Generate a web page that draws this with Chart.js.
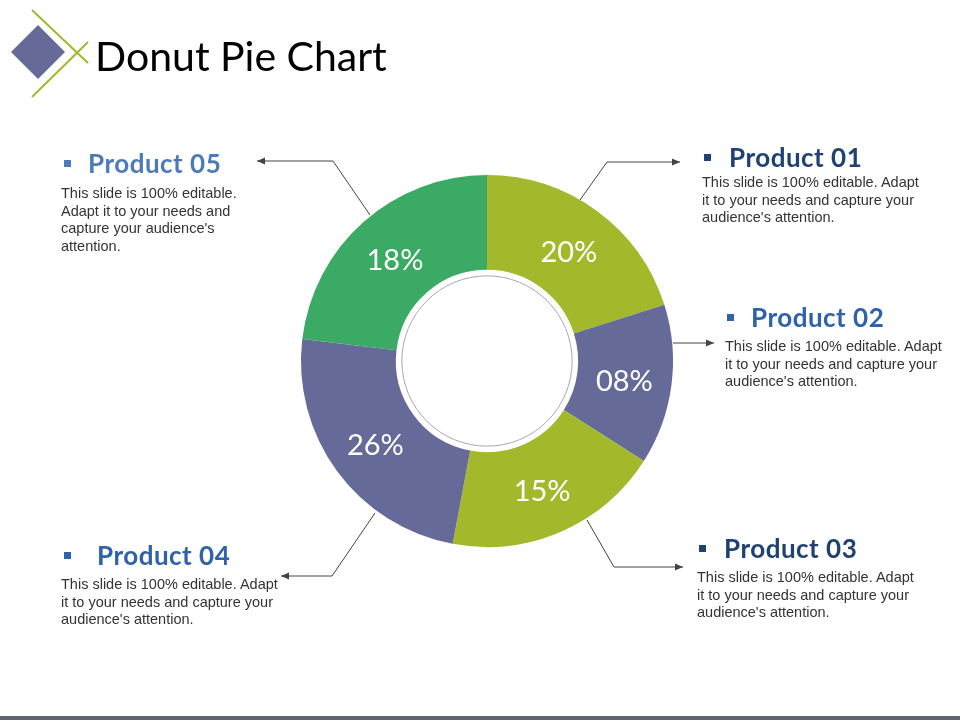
<!DOCTYPE html>
<html>
<head>
<meta charset="utf-8">
<script src="https://cdn.jsdelivr.net/npm/chart.js@4"></script>
<style>
  html, body { margin: 0; padding: 0; background: #fff; }
  #page { position: relative; width: 960px; height: 720px; overflow: hidden; }
  #donut { position: absolute; left: 0; top: 0; }
  .title { position: absolute; left: 95px; top: 35px; font: 41px/41px Lato, sans-serif; color: #000; white-space: nowrap; }
  .head { position: absolute; font: bold 26px/26px Lato, sans-serif; letter-spacing: 0.5px; white-space: nowrap; }
  .head i { position: absolute; top: 10px; width: 7px; height: 7px; background: currentColor; }
  .body { position: absolute; font: 14.5px/17.6px "Liberation Sans", Arial, sans-serif; color: #333; white-space: nowrap; }
  .footer { position: absolute; left: 0; top: 716px; width: 960px; height: 4px; background: #5f656d; }
</style>
</head>
<body>
<div id="page">
  <canvas id="donut" width="960" height="720"></canvas>
  <svg style="position:absolute;left:0;top:0" width="100" height="110">
    <polygon points="38,25 65,52 38,79 11,52" fill="#666a98"/>
    <line x1="32" y1="10" x2="88" y2="63" stroke="#a3b82a" stroke-width="2"/>
    <line x1="32" y1="97" x2="88" y2="42" stroke="#a3b82a" stroke-width="2"/>
  </svg>
  <div class="title">Donut Pie Chart</div>
  <div id="notes"></div>
  <div class="footer"></div>
</div>
<script>
// slice sizes as drawn in the picture, and the labels printed on them
const products = ['Product 01', 'Product 02', 'Product 03', 'Product 04', 'Product 05'];
const sliceShare = [20.1, 13.9, 18.9, 23.9, 23.1];
const pctLabels = ['20%', '08%', '15%', '26%', '18%'];
const noteLines = [
    ['This slide is 100% editable. Adapt', 'it to your needs and capture your', "audience's attention."],
    ['This slide is 100% editable. Adapt', 'it to your needs and capture your', "audience's attention."],
    ['This slide is 100% editable. Adapt', 'it to your needs and capture your', "audience's attention."],
    ['This slide is 100% editable. Adapt', 'it to your needs and capture your', "audience's attention."],
    ['This slide is 100% editable.', 'Adapt it to your needs and', "capture your audience's", 'attention.']
];

const sliceColors = ['#a3b82a', '#666a98', '#a3b82a', '#666a98', '#3aaa64'];
const headColors = ['#1f4272', '#2f62aa', '#1f4272', '#2f62aa', '#4d7bba'];
// heading: bullet x, text x, baseline; body: x, first baseline
const noteBoxes = [
    { bx: 704, tx: 729, base: 167, x: 702, first: 188 },
    { bx: 727, tx: 751, base: 327, x: 725, first: 352 },
    { bx: 699, tx: 724, base: 558, x: 697, first: 583 },
    { bx: 64, tx: 97, base: 565, x: 61, first: 590 },
    { bx: 64, tx: 88, base: 173, x: 61, first: 199 }
];
// callout lines: [from, elbow, arrow tip]
const callouts = [
    [[580, 200], [607, 162], [680, 162]],
    [[673, 343], [673, 343], [714, 343]],
    [[587, 520], [614, 567], [683, 567]],
    [[375, 513], [332, 576], [281, 576]],
    [[370, 215], [333, 161], [257, 161]]
];

const notes = document.getElementById('notes');
products.forEach((p, i) => {
    const b = noteBoxes[i];
    const h = document.createElement('div');
    h.className = 'head';
    h.style.color = headColors[i];
    h.style.left = '0px';
    h.style.top = (b.base - 23) + 'px';
    h.innerHTML = '<i style="left:' + b.bx + 'px"></i><span style="position:absolute;left:' + b.tx + 'px">' + p + '</span>';
    notes.appendChild(h);
    const t = document.createElement('div');
    t.className = 'body';
    t.style.left = b.x + 'px';
    t.style.top = (b.first - 13.8) + 'px';
    t.innerHTML = noteLines[i].join('<br>');
    notes.appendChild(t);
});

const extras = {
    id: 'extras',
    afterDatasetsDraw(chart) {
        const ctx = chart.ctx;
        const arcs = chart.getDatasetMeta(0).data;
        const a0 = arcs[0];
        ctx.save();
        // grey ring inside the hole
        ctx.beginPath();
        ctx.arc(a0.x, a0.y, a0.innerRadius - 6, 0, Math.PI * 2);
        ctx.strokeStyle = '#a8a8a8';
        ctx.lineWidth = 1;
        ctx.stroke();
        // percent labels
        ctx.fillStyle = '#fff';
        ctx.font = '29px Lato, sans-serif';
        ctx.textAlign = 'center';
        ctx.textBaseline = 'middle';
        arcs.forEach((arc, i) => {
            const c = arc.getCenterPoint();
            ctx.fillText(pctLabels[i], c.x, c.y + 3);
        });
        // callouts
        ctx.strokeStyle = '#444';
        ctx.fillStyle = '#444';
        callouts.forEach(([s, m, e]) => {
            ctx.beginPath();
            ctx.moveTo(s[0], s[1]);
            ctx.lineTo(m[0], m[1]);
            ctx.lineTo(e[0], e[1]);
            ctx.stroke();
            const dir = Math.sign(e[0] - m[0]);
            ctx.beginPath();
            ctx.moveTo(e[0], e[1]);
            ctx.lineTo(e[0] - dir * 8, e[1] - 3.5);
            ctx.lineTo(e[0] - dir * 8, e[1] + 3.5);
            ctx.closePath();
            ctx.fill();
        });
        ctx.restore();
    }
};

new Chart(document.getElementById('donut'), {
    type: 'doughnut',
    data: {
        labels: products,
        datasets: [{ data: sliceShare, backgroundColor: sliceColors, borderWidth: 0 }]
    },
    options: {
        responsive: false,
        animation: false,
        cutout: '49%',
        layout: { padding: { left: 301, right: 287, top: 175, bottom: 173 } },
        plugins: { legend: { display: false }, tooltip: { enabled: false } }
    },
    plugins: [extras]
});
</script>
</body>
</html>
